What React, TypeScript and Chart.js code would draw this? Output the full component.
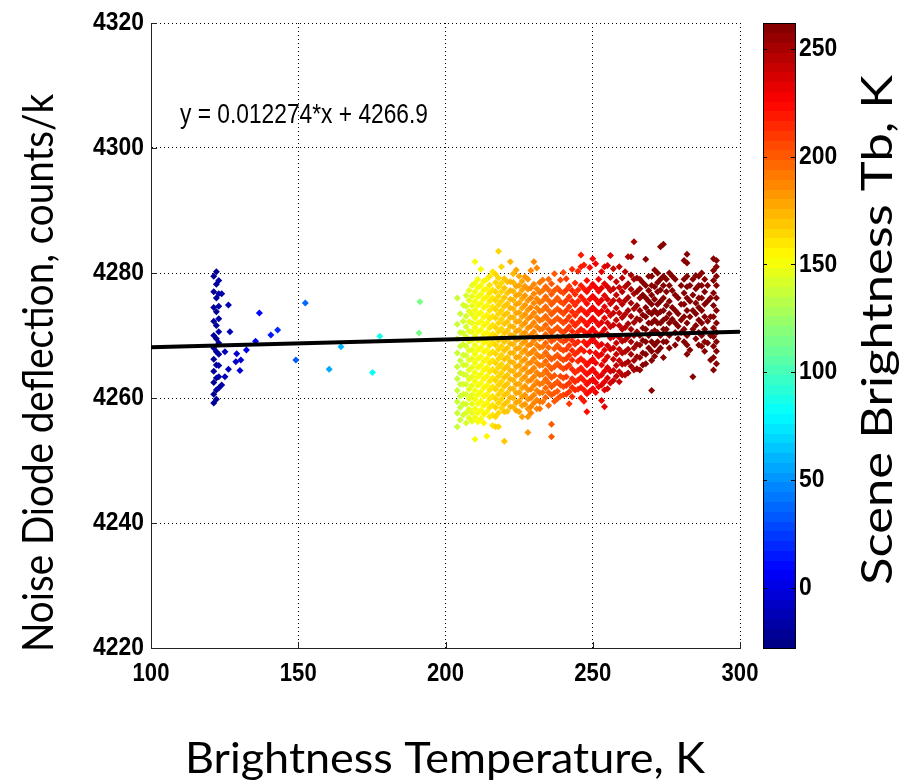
import React, { useEffect, useRef } from "react";
import { Chart, registerables } from "chart.js";
Chart.register(...registerables);

// ---------- axes ----------
const X_MIN = 100;
const X_MAX = 300;
const Y_MIN = 4220;
const Y_MAX = 4320;
const X_TICKS = [100, 150, 200, 250, 300];
const Y_TICKS = [4220, 4240, 4260, 4280, 4300, 4320];
const CB_MIN = -28;
const CB_MAX = 262;
const CB_TICKS = [0, 50, 100, 150, 200, 250];

// ---------- text ----------
const X_TITLE = "Brightness Temperature, K";
const Y_TITLE = "Noise Diode deflection, counts/k";
const CB_TITLE = "Scene Brightness Tb, K";
const EQUATION = "y = 0.012274*x + 4266.9";
const EQ_X = 109.85;
const EQ_Y = 4304;

// ---------- fit ----------
const FIT_SLOPE = 0.012274;
const FIT_INTERCEPT = 4266.9;

// scene brightness vs. brightness temperature
const TB_REF_X = 212;
const TB_REF = 153;
const TB_PER_K = 1.92;

// ---------- data: cold-scene strip ----------
const stripX = [121.3, 122.2, 123.0];
const stripY = [
  [4279.5, 4277.0, 4274.5, 4272.3, 4270.0, 4268.0, 4266.2, 4264.3, 4262.5, 4260.6, 4259.2],
  [4280.2, 4278.2, 4276.0, 4273.8, 4271.6, 4269.5, 4267.4, 4265.3, 4263.2, 4261.3, 4259.8],
  [4278.8, 4276.7, 4274.7, 4272.7, 4270.6, 4268.8, 4267.0, 4265.2, 4263.4, 4261.6],
];

// ---------- data: sparse intermediate points ----------
const sparseX = [124.0, 126.3, 126.8, 125.1, 129.1, 128.8, 130.5, 130.2, 126.3, 125.1, 124.0, 132.4, 135.5, 136.8, 140.7, 143.0, 149.2, 152.4, 160.5, 164.5, 175.2, 177.7, 191.3, 191.0];
const sparseY = [4276.7, 4274.9, 4270.6, 4267.4, 4267.1, 4265.8, 4266.1, 4264.4, 4264.6, 4263.4, 4262.1, 4267.7, 4269.1, 4273.6, 4270.1, 4270.9, 4266.1, 4275.2, 4264.6, 4268.2, 4264.1, 4269.9, 4275.4, 4270.4];

// ---------- data: warm-scene cloud (columns) ----------
const cloudX = [204, 205, 206, 207, 208, 209, 210, 211, 212, 213, 214, 215, 216, 217, 218, 219, 220, 221, 222, 223, 224, 225, 226, 227, 228, 229, 230, 231, 232, 233, 234, 235, 236, 237, 238, 239, 240, 241, 242, 243, 244, 245, 246, 247, 248, 249, 250, 251, 252, 253, 254, 255, 256, 257, 258, 259, 260, 261, 262, 263, 264, 265, 266, 267, 268, 269, 270, 271, 272, 273, 274, 275, 276, 277, 278, 279, 280, 281, 282, 283, 284, 285, 286, 287, 288, 289, 290, 291, 292];
const cloudY = [
  [4276, 4271.8, 4269.5, 4267.2, 4265, 4263.1, 4261.2, 4259.4, 4257.6, 4255.4],
  [4273.5, 4270.5, 4268.3, 4266, 4264, 4262.2, 4260.3, 4258.5, 4256.5],
  [4274.9, 4272.3, 4270.4, 4268.6, 4266.9, 4265.3, 4263.8, 4262.2, 4260.6, 4259.1, 4257.3],
  [4276.4, 4274.7, 4273.1, 4271.4, 4269.8, 4268.3, 4266.8, 4265.3, 4263.7, 4262.2, 4260.6, 4259, 4257.6, 4256],
  [4277.2, 4275.6, 4273.9, 4272.2, 4270.7, 4269.1, 4267.6, 4266.1, 4264.5, 4263, 4261.4, 4259.9, 4258.2, 4256.8],
  [4278, 4276.3, 4274.8, 4273.4, 4272, 4270.6, 4269.2, 4267.7, 4266.3, 4264.9, 4263.4, 4262, 4260.5, 4259.1, 4257.6, 4256.3],
  [4281.8, 4278.4, 4277, 4275.5, 4274.1, 4272.8, 4271.3, 4269.9, 4268.4, 4267, 4265.6, 4264.1, 4262.7, 4261.2, 4259.8, 4258.3, 4256.9, 4253.4],
  [4279, 4277.7, 4276.2, 4274.8, 4273.4, 4272, 4270.6, 4269.2, 4267.7, 4266.3, 4264.9, 4263.4, 4262, 4260.5, 4259.1, 4257.6, 4256.2],
  [4280.6, 4278, 4276.6, 4275.2, 4273.7, 4272.3, 4270.9, 4269.5, 4268.1, 4266.6, 4265.2, 4263.8, 4262.4, 4261, 4259.5, 4258.1, 4256.7],
  [4278.7, 4277.3, 4275.9, 4274.5, 4273, 4271.6, 4270.2, 4268.8, 4267.4, 4265.9, 4264.5, 4263.1, 4261.7, 4260.3, 4258.8, 4257.4, 4256],
  [4279, 4277.5, 4276.2, 4274.8, 4273.3, 4272, 4270.5, 4269.1, 4267.7, 4266.3, 4264.9, 4263.5, 4262, 4260.6, 4259.2, 4257.8, 4253.9],
  [4279.5, 4278.1, 4276.8, 4275.5, 4274, 4272.7, 4271.2, 4269.8, 4268.4, 4267, 4265.6, 4264.2, 4262.7, 4261.3, 4259.9, 4258.5, 4257],
  [4280.2, 4277.3, 4276, 4274.6, 4273.1, 4271.7, 4270.3, 4268.9, 4267.4, 4266, 4264.6, 4263.2, 4261.8, 4260.3, 4258.9, 4257.3, 4255.6],
  [4279.8, 4278.5, 4277, 4275.6, 4274.2, 4272.8, 4271.3, 4269.9, 4268.5, 4267.1, 4265.6, 4264.2, 4262.8, 4261.4, 4259.9, 4258.5, 4257, 4255.4],
  [4283.5, 4279.2, 4277.8, 4276.3, 4274.9, 4273.5, 4272, 4270.6, 4269.2, 4267.8, 4266.3, 4264.9, 4263.5, 4262.1, 4260.6, 4259.2, 4257.6, 4255.4],
  [4281, 4278.4, 4277, 4275.5, 4274, 4272.6, 4271.1, 4269.7, 4268.3, 4266.9, 4265.4, 4264, 4262.6, 4261.2, 4259.8, 4258.4],
  [4279.1, 4277.6, 4276.1, 4274.7, 4273.3, 4271.9, 4270.4, 4269, 4267.6, 4266.2, 4264.7, 4263.3, 4261.9, 4260.5, 4259, 4257.8, 4253.1],
  [4278.6, 4276.8, 4275.1, 4273.6, 4272.2, 4270.8, 4269.4, 4268, 4266.5, 4265.1, 4263.7, 4262.3, 4260.8, 4259.4, 4257.9],
  [4281.8, 4278.6, 4277.2, 4275.8, 4274.4, 4272.9, 4271.5, 4270.1, 4268.7, 4267.2, 4265.8, 4264.4, 4263, 4261.5, 4260.1, 4258.6],
  [4279.9, 4278.5, 4277.1, 4275.7, 4274.3, 4272.9, 4271.4, 4270, 4268.6, 4267.2, 4265.7, 4264.3, 4262.9, 4261.5, 4260, 4258.6],
  [4280.5, 4277.9, 4276.4, 4275, 4273.6, 4272.2, 4270.7, 4269.3, 4267.9, 4266.5, 4265, 4263.6, 4262.2, 4260.8, 4259.3, 4258],
  [4279.5, 4278, 4276.6, 4275.2, 4273.7, 4272.3, 4270.9, 4269.5, 4268, 4266.6, 4265.2, 4263.8, 4262.3, 4260.9, 4259.5, 4257.8],
  [4278.7, 4277.3, 4275.9, 4274.4, 4273, 4271.6, 4270.2, 4268.7, 4267.3, 4265.9, 4264.5, 4263, 4261.6, 4260.2, 4258.8, 4257],
  [4279.4, 4277.9, 4276.4, 4274.9, 4273.4, 4272, 4270.5, 4269.1, 4267.7, 4266.2, 4264.8, 4263.4, 4261.9, 4260.5, 4259],
  [4279, 4277.4, 4275.6, 4274.1, 4272.7, 4271.2, 4269.8, 4268.4, 4267, 4265.5, 4264.1, 4262.7, 4261.3, 4259.8, 4258.3, 4257, 4254.5],
  [4280.4, 4277.6, 4276, 4274.5, 4273, 4271.5, 4270.1, 4268.6, 4267.2, 4265.7, 4264.3, 4262.9, 4261.4, 4260, 4258.6, 4257.6],
  [4281.8, 4278.2, 4276.7, 4275.2, 4273.6, 4272.1, 4270.6, 4269.2, 4267.7, 4266.3, 4264.8, 4263.4, 4262, 4260.5, 4259.2],
  [4280.8, 4277.5, 4275.9, 4274.4, 4272.9, 4271.4, 4269.9, 4268.5, 4267, 4265.6, 4264.1, 4262.6, 4261.2, 4259.7, 4258.3],
  [4278.5, 4276.9, 4275.3, 4273.9, 4272.4, 4271, 4269.5, 4268.1, 4266.6, 4265.2, 4263.7, 4262.2, 4260.8, 4259.4, 4258.3],
  [4278.9, 4277.2, 4275.6, 4274.1, 4272.6, 4271.1, 4269.7, 4268.2, 4266.7, 4265.3, 4263.8, 4262.4, 4260.9, 4259.4],
  [4277.8, 4276.2, 4274.6, 4273.1, 4271.7, 4270.2, 4268.8, 4267.3, 4265.9, 4264.4, 4263, 4261.6, 4260.1],
  [4279, 4277.3, 4275.6, 4274, 4272.5, 4271, 4269.6, 4268.1, 4266.7, 4265.2, 4263.8, 4262.4, 4260.9, 4258.8],
  [4278.3, 4276.6, 4275, 4273.4, 4272, 4270.5, 4269.1, 4266.2, 4264.7, 4263.3, 4261.8, 4260.5, 4255.8, 4253.8],
  [4279.9, 4277.2, 4275.5, 4273.9, 4272.4, 4270.9, 4269.4, 4267.9, 4266.5, 4265, 4263.6, 4262.2, 4260.8, 4259.5],
  [4277.6, 4276, 4274.3, 4272.8, 4271.3, 4269.8, 4268.4, 4266.9, 4265.5, 4262.6, 4261.1, 4259.9],
  [4278.9, 4277.1, 4275.4, 4273.9, 4272.4, 4270.8, 4269.3, 4267.9, 4266.4, 4265, 4263.5, 4262.1, 4260.3],
  [4280.1, 4276.8, 4275.1, 4273.5, 4272, 4270.5, 4269, 4267.6, 4266.1, 4264.7, 4263.2, 4261.8, 4260.5],
  [4279.1, 4277.3, 4275.6, 4274, 4272.4, 4270.9, 4269.3, 4267.8, 4266.3, 4264.9, 4263.4, 4262, 4260.6],
  [4277.9, 4276.2, 4274.6, 4273, 4271.4, 4269.9, 4268.4, 4266.8, 4265.3, 4262.4, 4261, 4259.1],
  [4280.6, 4277.2, 4275.5, 4273.8, 4272.2, 4270.7, 4269.2, 4267.6, 4266.1, 4264.6, 4263.1, 4261.7, 4260.2],
  [4278.4, 4276.6, 4274.9, 4273.2, 4271.6, 4270, 4268.6, 4267, 4264.1, 4262.6, 4261.3],
  [4280.3, 4277.3, 4275.5, 4273.8, 4272.1, 4270.6, 4269, 4267.4, 4265.9, 4264.4, 4262.9, 4261.4],
  [4282.9, 4281, 4278, 4276.2, 4274.3, 4272.7, 4271, 4267.9, 4266.3, 4264.8, 4263.3, 4261.7, 4260],
  [4281.3, 4277.5, 4275.7, 4273.9, 4272.3, 4270.7, 4269, 4267.5, 4265.9, 4264.3, 4262.8, 4261.3, 4259.5],
  [4278.8, 4277, 4275.1, 4273.4, 4271.7, 4270.1, 4268.5, 4265.3, 4263.8, 4262.2, 4260.7, 4257.8],
  [4280.9, 4277.6, 4275.8, 4274, 4272.3, 4270.6, 4269, 4267.4, 4265.8, 4264.2, 4262.7, 4261.1],
  [4282.3, 4278.2, 4276.3, 4274.5, 4272.8, 4271.1, 4269.5, 4266.2, 4264.6, 4263, 4261.5],
  [4281.5, 4277.7, 4275.8, 4274, 4272.3, 4270.5, 4268.9, 4267.2, 4265.6, 4264, 4262.5, 4260.9],
  [4279, 4277.1, 4275.2, 4273.5, 4271.7, 4270, 4268.3, 4266.7, 4263.4, 4261.8],
  [4280.2, 4277.6, 4275.7, 4273.9, 4272.1, 4270.4, 4268.6, 4267, 4265.3, 4263.7, 4262.1, 4259.6],
  [4281, 4278.3, 4276.4, 4274.6, 4272.8, 4271, 4267.7, 4266, 4264.3, 4262.6, 4261.3, 4258.6],
  [4281.2, 4277.8, 4275.8, 4273.9, 4272, 4270.2, 4268.4, 4266.6, 4264.9, 4263.2, 4261.5],
  [4282.8, 4279.3, 4277.2, 4275.1, 4273.2, 4271.4, 4269.6, 4267.8, 4264.3, 4262.4],
  [4280.7, 4277.5, 4275.6, 4273.6, 4271.7, 4269.8, 4268, 4266.2, 4264.4, 4262.8],
  [4278.6, 4276.5, 4274.4, 4272.5, 4268.8, 4267, 4265.2, 4263.5],
  [4281, 4277.7, 4275.6, 4273.6, 4271.6, 4269.7, 4267.8, 4266, 4264.2, 4262.6],
  [4279.2, 4277, 4275, 4272.9, 4271, 4269.1, 4267.2, 4265.4, 4263.7],
  [4280.2, 4277.8, 4275.6, 4273.4, 4271.3, 4269.3, 4267.4, 4265.5, 4263.7],
  [4282.6, 4278.3, 4276.1, 4274, 4271.9, 4269.8, 4267.8, 4265.8, 4264],
  [4282.6, 4279.7, 4277.4, 4275.2, 4273.1, 4271, 4269, 4267, 4265.1],
  [4285, 4279, 4276.7, 4274.3, 4272.1, 4270, 4268, 4266, 4264.5],
  [4279.2, 4277, 4274.8, 4272.7, 4270.6, 4268.6, 4266.6, 4264.7],
  [4279, 4277.5, 4276, 4274, 4272.5, 4270, 4268.5, 4266.5, 4264.5],
  [4278.5, 4276.5, 4273.3, 4271.2, 4269.2, 4267.2, 4265.3],
  [4282.2, 4278, 4276, 4274.5, 4273, 4271, 4269, 4267, 4265.5],
  [4279.5, 4277.2, 4275.5, 4273.8, 4272, 4270, 4268],
  [4279.5, 4278, 4276.5, 4275, 4273.5, 4272, 4270.5, 4269, 4267.5, 4266, 4261.2],
  [4280.5, 4277.8, 4275.8, 4274, 4272.5, 4270.8, 4268.5, 4266.7],
  [4280, 4278.5, 4277, 4275, 4273.5, 4272, 4270.5, 4269, 4267.5],
  [4284.2, 4279, 4277.3, 4275.5, 4273.8, 4272, 4270, 4268],
  [4284.6, 4279.5, 4278, 4276, 4274, 4272.5, 4271, 4269, 4266.5],
  [4279, 4277, 4274.8, 4272.8, 4271, 4269],
  [4280, 4278, 4275.5, 4273.5, 4272, 4270, 4268],
  [4279.5, 4277.2, 4274.5, 4272.6],
  [4279, 4276.5, 4274, 4272, 4270.5, 4268.5],
  [4276, 4273.5, 4271.5, 4269.5],
  [4278, 4275, 4272.5, 4270.5],
  [4282, 4279, 4276.8, 4275, 4273, 4271, 4269],
  [4283, 4281.6, 4279.5, 4277.8, 4276, 4274, 4272, 4270, 4268.5, 4267],
  [4278, 4275.5, 4273, 4267.7],
  [4279, 4276.5, 4274, 4271, 4263.4],
  [4279.6, 4277.5, 4275.2, 4273.5, 4271.6, 4269.5],
  [4279.5, 4278, 4276, 4274.5, 4272.5, 4270.5, 4268.5],
  [4280, 4278, 4276, 4274, 4272, 4270, 4268.3],
  [4279, 4277, 4275, 4273, 4271, 4269, 4267.5],
  [4278, 4275.5, 4272.3, 4268.8],
  [4276, 4273, 4270, 4266.1],
  [4282.3, 4280.4, 4278.8, 4276.8, 4274.8, 4273, 4271.2, 4269.8, 4268.3, 4266.5, 4264.5],
  [4282, 4281, 4279.5, 4278, 4276, 4274, 4272, 4270.5, 4269, 4267.5, 4265.5],
];

// ---------- styles ----------
const LABEL_FONT = "'Liberation Sans', Arial, sans-serif";
const TITLE_FONT = "Lato, 'Open Sans', sans-serif";

function jet(t: number): string {
  const n = 64;
  let i = Math.floor(t * n);
  if (i < 0) i = 0;
  if (i > n - 1) i = n - 1;
  const q = (i + 0.5) / n;
  const c = (v: number) => Math.max(0, Math.min(1, v));
  const r = c(1.5 - Math.abs(4 * q - 3));
  const g = c(1.5 - Math.abs(4 * q - 2));
  const b = c(1.5 - Math.abs(4 * q - 1));
  return `rgb(${Math.round(r * 255)},${Math.round(g * 255)},${Math.round(b * 255)})`;
}

function colorForX(x: number): string {
  const tb = TB_REF + TB_PER_K * (x - TB_REF_X);
  return jet((tb - CB_MIN) / (CB_MAX - CB_MIN));
}

function buildPoints() {
  const pts: { x: number; y: number }[] = [];
  stripX.forEach((x, i) => stripY[i].forEach((y) => pts.push({ x, y })));
  sparseX.forEach((x, i) => pts.push({ x, y: sparseY[i] }));
  cloudX.forEach((x, i) => cloudY[i].forEach((y) => pts.push({ x, y })));
  return pts;
}

function drawTitle(ctx: CanvasRenderingContext2D, text: string, cx: number, cy: number, rot: number, size: number, width: number) {
  ctx.save();
  ctx.font = `${size}px ${TITLE_FONT}`;
  const w = ctx.measureText(text).width;
  ctx.translate(cx, cy);
  ctx.rotate(rot);
  ctx.scale(width / w, 1);
  ctx.textAlign = "center";
  ctx.textBaseline = "alphabetic";
  ctx.fillStyle = "#000";
  ctx.fillText(text, 0, size * 0.36);
  ctx.restore();
}

function drawLabel(ctx: CanvasRenderingContext2D, text: string, x: number, y: number, align: CanvasTextAlign, font: string, sx: number) {
  ctx.save();
  ctx.translate(x, y);
  ctx.scale(sx, 1);
  ctx.font = font;
  ctx.textAlign = align;
  ctx.textBaseline = "middle";
  ctx.fillStyle = "#000";
  ctx.fillText(text, 0, 0);
  ctx.restore();
}

const decorPlugin = {
  id: "decor",
  afterDatasetsDraw(chart: any) {
    const { ctx, chartArea: a, scales } = chart;
    const xs = scales.x;
    const ys = scales.y;
    const cb = scales.cb;
    ctx.save();
    // inward tick marks
    ctx.strokeStyle = "#222";
    ctx.lineWidth = 1;
    X_TICKS.forEach((v) => {
      const px = Math.round(xs.getPixelForValue(v)) + 0.5;
      ctx.beginPath();
      ctx.moveTo(px, a.bottom);
      ctx.lineTo(px, a.bottom - 6);
      ctx.stroke();
    });
    Y_TICKS.forEach((v) => {
      const py = Math.round(ys.getPixelForValue(v)) + 0.5;
      ctx.beginPath();
      ctx.moveTo(a.left, py);
      ctx.lineTo(a.left + 6, py);
      ctx.stroke();
    });
    ctx.restore();

    // equation text (fitted to measured width)
    ctx.save();
    ctx.font = `28px ${LABEL_FONT}`;
    const ew = ctx.measureText(EQUATION).width;
    ctx.translate(xs.getPixelForValue(EQ_X), ys.getPixelForValue(EQ_Y));
    ctx.scale(248 / ew, 1);
    ctx.fillStyle = "#000";
    ctx.textAlign = "left";
    ctx.textBaseline = "alphabetic";
    ctx.fillText(EQUATION, 0, 0);
    ctx.restore();

    // colour bar
    ctx.save();
    const cbL = a.right + 23;
    const cbW = 32;
    const n = 64;
    for (let i = 0; i < n; i++) {
      const v0 = CB_MIN + ((CB_MAX - CB_MIN) * i) / n;
      const v1 = CB_MIN + ((CB_MAX - CB_MIN) * (i + 1)) / n;
      const p0 = cb.getPixelForValue(v0);
      const p1 = cb.getPixelForValue(v1);
      ctx.fillStyle = jet((i + 0.5) / n);
      ctx.fillRect(cbL, Math.floor(p1), cbW, Math.ceil(p0) - Math.floor(p1));
    }
    const top = cb.getPixelForValue(CB_MAX);
    const bot = cb.getPixelForValue(CB_MIN);
    ctx.strokeStyle = "#000";
    ctx.lineWidth = 1;
    ctx.strokeRect(cbL + 0.5, Math.round(top) + 0.5, cbW, Math.round(bot - top));
    CB_TICKS.forEach((v) => {
      const py = Math.round(cb.getPixelForValue(v)) + 0.5;
      ctx.beginPath();
      ctx.moveTo(cbL, py);
      ctx.lineTo(cbL + 4, py);
      ctx.moveTo(cbL + cbW, py);
      ctx.lineTo(cbL + cbW - 4, py);
      ctx.stroke();
    });
    ctx.restore();
  },
  afterDraw(chart: any) {
    const { ctx, chartArea: a, scales } = chart;
    const bold = `bold 26px ${LABEL_FONT}`;
    // tick labels, placed by the chart's scales
    Y_TICKS.forEach((v) => drawLabel(ctx, String(v), a.left - 7, scales.y.getPixelForValue(v), "right", bold, 0.88));
    X_TICKS.forEach((v) => drawLabel(ctx, String(v), scales.x.getPixelForValue(v), a.bottom + 26, "center", bold, 0.85));
    CB_TICKS.forEach((v) => drawLabel(ctx, String(v), a.right + 59, scales.cb.getPixelForValue(v), "left", bold, 0.88));
    // titles
    drawTitle(ctx, Y_TITLE, 38, 373, -Math.PI / 2, 42, 558);
    drawTitle(ctx, X_TITLE, 445, 758, 0, 42, 520);
    drawTitle(ctx, CB_TITLE, 877, 330, -Math.PI / 2, 42, 510);
  },
};

export default function App() {
  const ref = useRef<HTMLCanvasElement | null>(null);
  useEffect(() => {
    document.body.style.margin = "0";
    const canvas = ref.current;
    if (!canvas) return;
    const pts = buildPoints();
    const colors = pts.map((p) => colorForX(p.x));
    const fit = [X_MIN, X_MAX].map((x) => ({ x, y: FIT_SLOPE * x + FIT_INTERCEPT }));
    const zeroPad = (s: any) => {
      s.paddingTop = 0;
      s.paddingBottom = 0;
      s.paddingLeft = 0;
      s.paddingRight = 0;
    };
    const chart = new Chart(canvas, {
      type: "scatter",
      data: {
        datasets: [
          {
            type: "line",
            data: fit,
            borderColor: "#000",
            borderWidth: 4,
            pointRadius: 0,
            fill: false,
            yAxisID: "y",
            order: 0,
          } as any,
          {
            type: "scatter",
            data: pts,
            pointStyle: "rectRot",
            pointRadius: 3.5,
            pointBorderWidth: 0,
            pointBackgroundColor: colors,
            backgroundColor: colors,
            borderWidth: 0,
            yAxisID: "y",
            order: 1,
          } as any,
        ],
      },
      options: {
        animation: false,
        responsive: false,
        maintainAspectRatio: false,
        events: [],
        layout: { padding: { top: 23, left: 0, right: 0, bottom: 0 } },
        plugins: { legend: { display: false }, tooltip: { enabled: false } },
        scales: {
          x: {
            type: "linear",
            position: "bottom",
            min: X_MIN,
            max: X_MAX,
            afterBuildTicks: (s: any) => {
              s.ticks = X_TICKS.map((v) => ({ value: v }));
            },
            afterFit: (s: any) => {
              s.height = 135;
              zeroPad(s);
            },
            grid: { color: "#000", lineWidth: 1, drawTicks: false },
            border: { display: true, color: "#222", width: 1, dash: [1, 3] },
            ticks: { display: false },
          },
          y: {
            type: "linear",
            position: "left",
            min: Y_MIN,
            max: Y_MAX,
            afterBuildTicks: (s: any) => {
              s.ticks = Y_TICKS.map((v) => ({ value: v }));
            },
            afterFit: (s: any) => {
              s.width = 151;
              zeroPad(s);
            },
            grid: { color: "#000", lineWidth: 1, drawTicks: false },
            border: { display: true, color: "#222", width: 1, dash: [1, 3] },
            ticks: { display: false },
          },
          cb: {
            type: "linear",
            position: "right",
            min: CB_MIN,
            max: CB_MAX,
            afterBuildTicks: (s: any) => {
              s.ticks = CB_TICKS.map((v) => ({ value: v }));
            },
            afterFit: (s: any) => {
              s.width = 167;
              zeroPad(s);
            },
            grid: { display: false, drawTicks: false },
            border: { display: false },
            ticks: { display: false },
          },
        },
      } as any,
      plugins: [decorPlugin],
    });
    return () => chart.destroy();
  }, []);
  return (
    <div style={{ width: 907, height: 783, background: "#fff" }}>
      <canvas ref={ref} width={907} height={783} style={{ display: "block" }} />
    </div>
  );
}
